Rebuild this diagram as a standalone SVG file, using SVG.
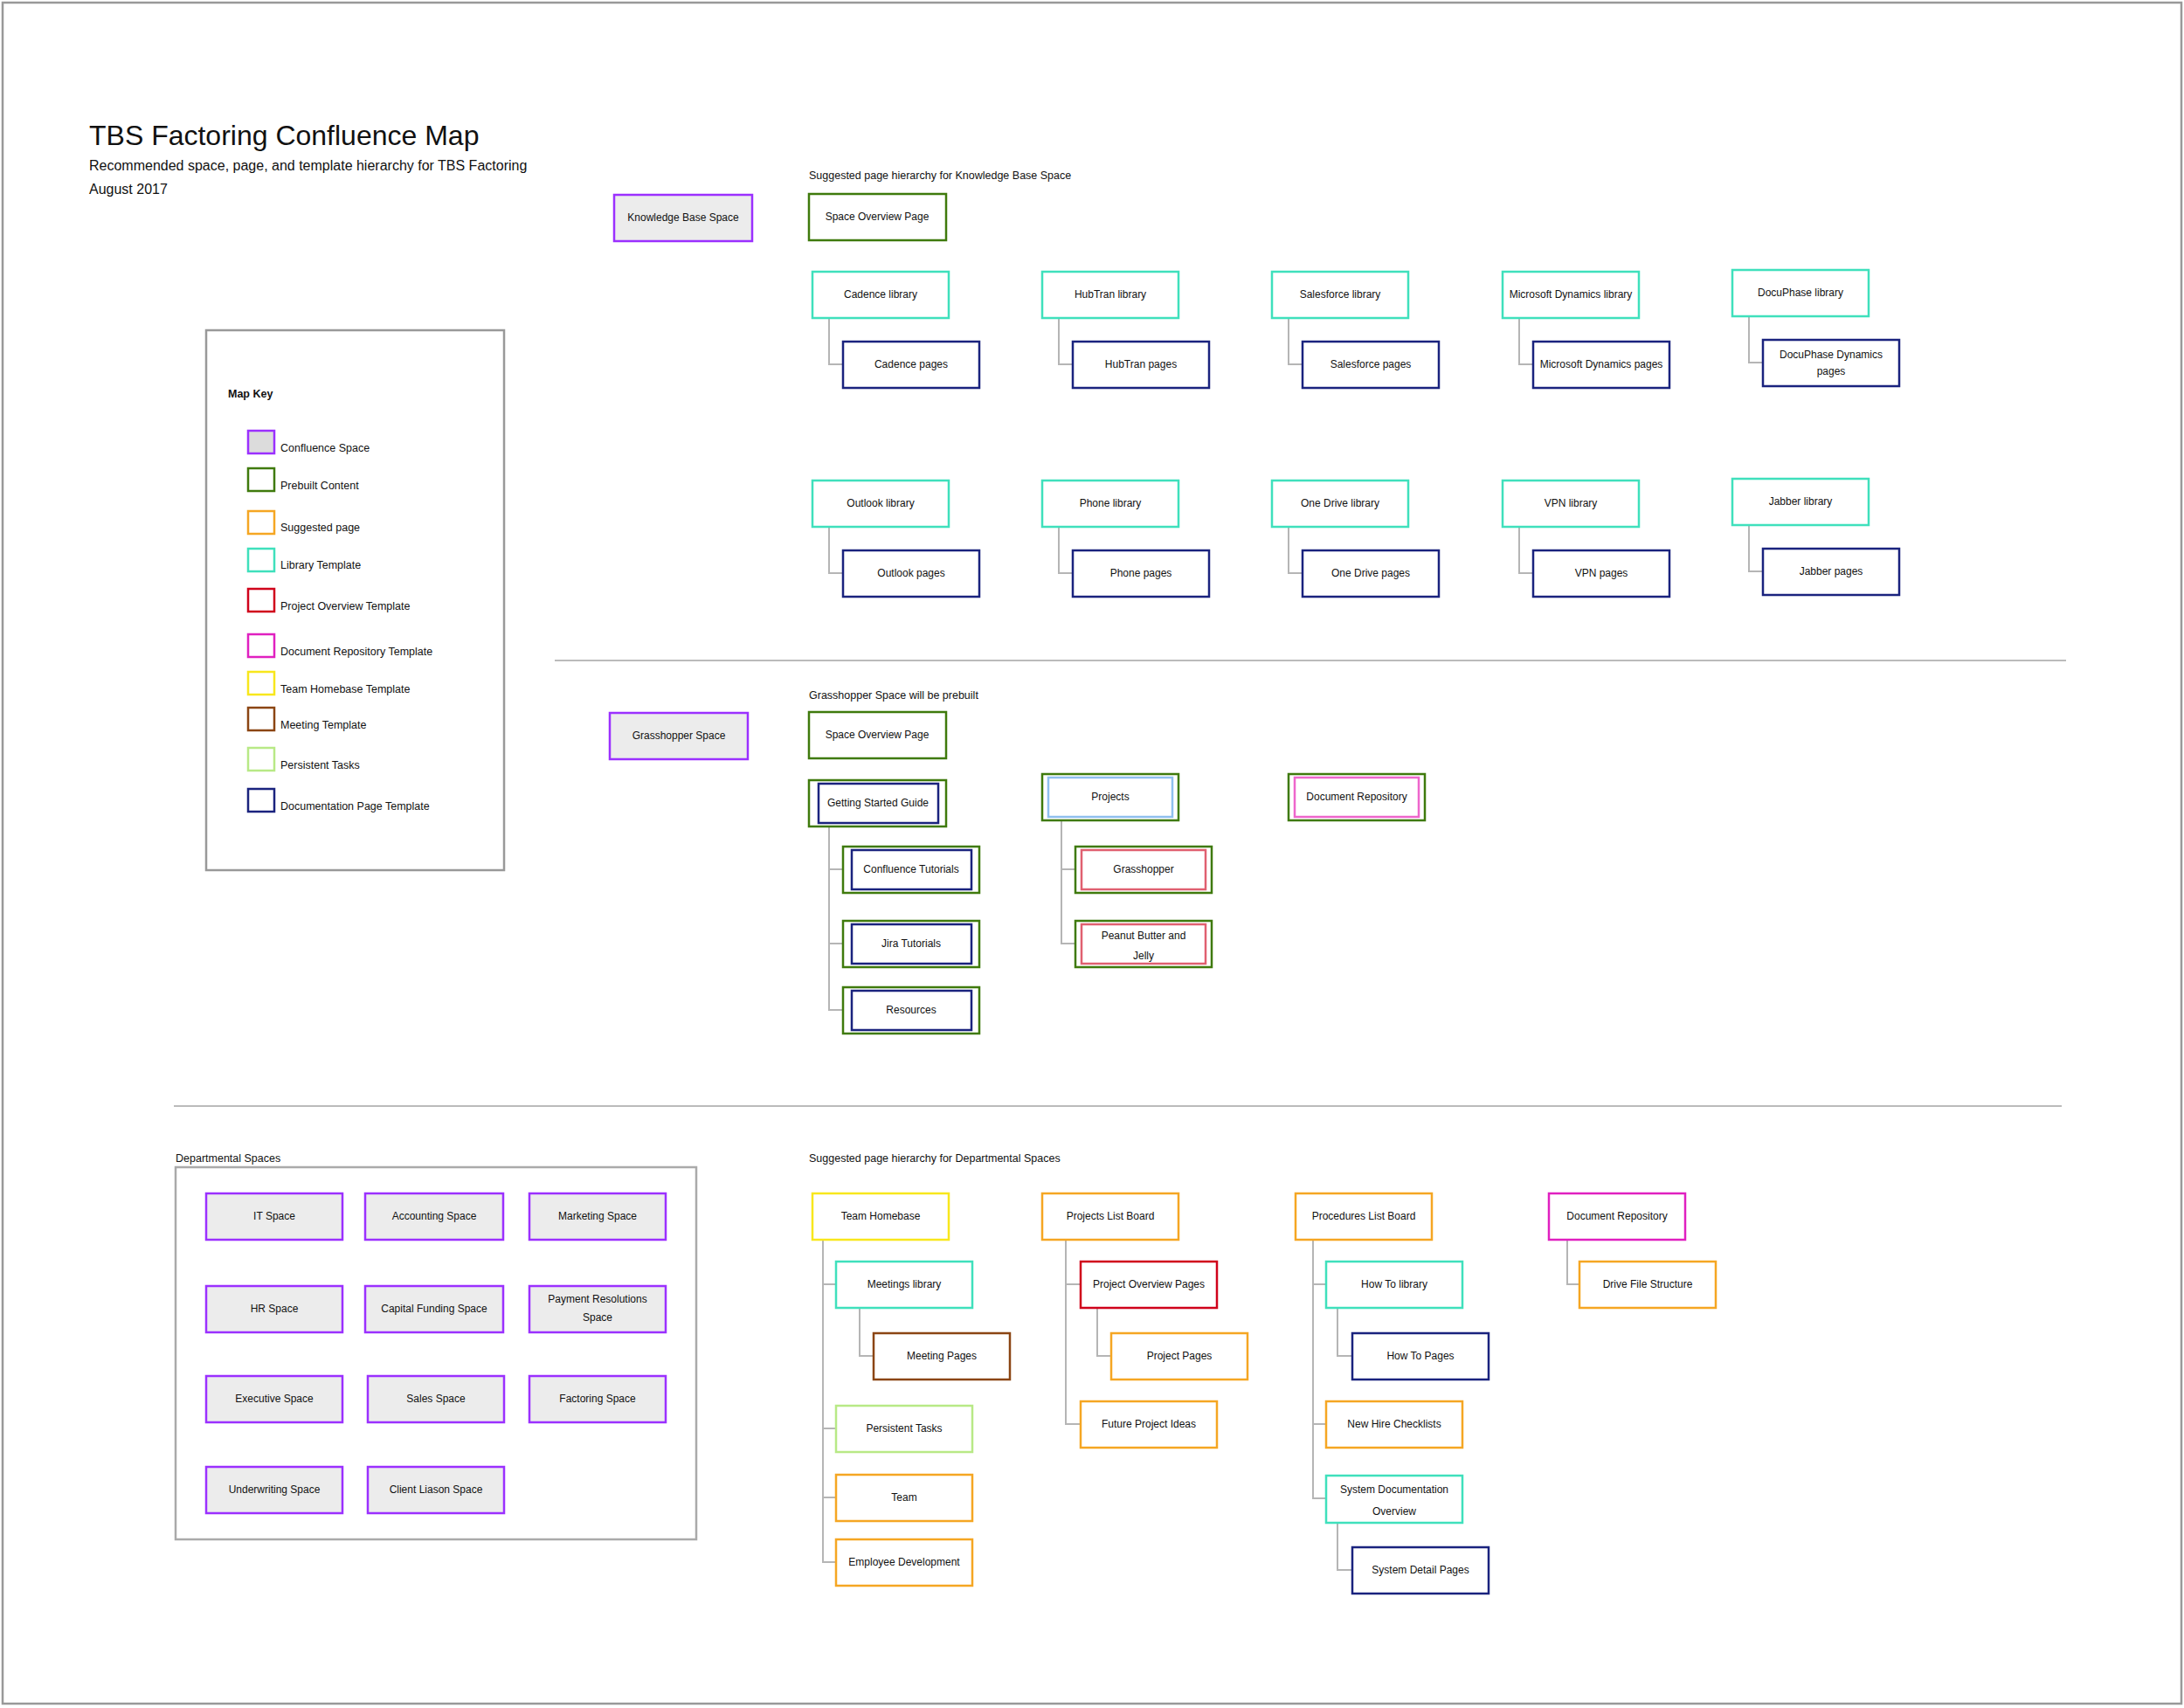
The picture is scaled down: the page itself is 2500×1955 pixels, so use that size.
<svg xmlns="http://www.w3.org/2000/svg" width="2500" height="1955" viewBox="0 0 2500 1955">
<style>
text{font-family:"Liberation Sans",Arial,sans-serif;fill:#111;}
.t{font-size:12px;text-anchor:middle;dominant-baseline:central;}
.l{font-size:12.5px;}
rect{stroke-width:2.5;fill:#fff;}
.sp{stroke:#9b30ff;fill:#ececec;}
.pb{stroke:#3f7a0c;}
.sg{stroke:#f5a623;}
.lib{stroke:#3fe0bc;}
.po{stroke:#d0021b;}
.dr{stroke:#e020c0;}
.th{stroke:#f8e71c;}
.mt{stroke:#8b4513;}
.pt{stroke:#b8e986;}
.dp{stroke:#1a237e;}
.pj{stroke:#8fbfee;}
.pr{stroke:#e06070;}
.dr2{stroke:#ee66cc;}
.c path{fill:none;stroke:#b5b5b5;stroke-width:2;}
.sep{stroke:#bbb;stroke-width:2;}
</style>
<rect x="3" y="3" width="2494" height="1947" fill="#fff" stroke="#999" stroke-width="3"/>
<g id="title">
<text x="102" y="166" style="font-size:32px">TBS Factoring Confluence Map</text>
<text x="102" y="195" style="font-size:16px">Recommended space, page, and template hierarchy for TBS Factoring</text>
<text x="102" y="222" style="font-size:16px">August 2017</text>
</g>
<g id="legend">
<rect x="236" y="378" width="341" height="618" stroke="#999" stroke-width="3"/>
<text x="261" y="455" class="l" style="font-weight:bold">Map Key</text>
<rect x="284" y="493" width="30" height="26" class="sp" style="fill:#dcdcdc"/><text x="321" y="517" class="l">Confluence Space</text>
<rect x="284" y="536" width="30" height="26" class="pb"/><text x="321" y="560" class="l">Prebuilt Content</text>
<rect x="284" y="585" width="30" height="26" class="sg"/><text x="321" y="608" class="l">Suggested page</text>
<rect x="284" y="628" width="30" height="26" class="lib"/><text x="321" y="651" class="l">Library Template</text>
<rect x="284" y="674" width="30" height="26" class="po"/><text x="321" y="698" class="l">Project Overview Template</text>
<rect x="284" y="726" width="30" height="26" class="dr"/><text x="321" y="750" class="l">Document Repository Template</text>
<rect x="284" y="769" width="30" height="26" class="th"/><text x="321" y="793" class="l">Team Homebase Template</text>
<rect x="284" y="810" width="30" height="26" class="mt"/><text x="321" y="834" class="l">Meeting Template</text>
<rect x="284" y="856" width="30" height="26" class="pt"/><text x="321" y="880" class="l">Persistent Tasks</text>
<rect x="284" y="903" width="30" height="26" class="dp"/><text x="321" y="927" class="l">Documentation Page Template</text>
</g>
<g id="separators">
<line x1="635" y1="756" x2="2365" y2="756" class="sep"/>
<line x1="199" y1="1266" x2="2360" y2="1266" class="sep"/>
</g>
<g id="captions">
<text x="926" y="205" class="l">Suggested page hierarchy for Knowledge Base Space</text>
<text x="926" y="800" class="l">Grasshopper Space will be prebuilt</text>
<text x="201" y="1330" class="l">Departmental Spaces</text>
<text x="926" y="1330" class="l">Suggested page hierarchy for Departmental Spaces</text>
</g>
<g class="c" id="connectors">
<path d="M949 364V417H965"/><path d="M1212 364V417H1228"/><path d="M1475 364V417H1491"/><path d="M1739 364V417H1755"/><path d="M2002 362V415H2018"/>
<path d="M949 603V656H965"/><path d="M1212 603V656H1228"/><path d="M1475 603V656H1491"/><path d="M1739 603V656H1755"/><path d="M2002 601V654H2018"/>
<path d="M949 945V1156H965M949 995H965M949 1080H965"/>
<path d="M1215 939V1080H1231M1215 995H1231"/>
<path d="M942 1419V1788H957M942 1470H957M942 1635H957M942 1714H957"/>
<path d="M984 1497V1552H1000"/>
<path d="M1220 1419V1630H1237M1220 1470H1237"/>
<path d="M1256 1497V1552H1272"/>
<path d="M1503 1419V1715H1518M1503 1470H1518M1503 1630H1518"/>
<path d="M1531 1497V1552H1548"/>
<path d="M1531 1743V1797H1548"/>
<path d="M1794 1419V1470H1808"/>
</g>
<g id="kb">
<g id="kb-space"><rect x="703" y="223" width="158" height="53" class="sp"/><text x="782" y="249" class="t">Knowledge Base Space</text></g>
<g id="kb-overview"><rect x="926" y="222" width="157" height="53" class="pb"/><text x="1004" y="248" class="t">Space Overview Page</text></g>
<g id="kb-cadence"><rect x="930" y="311" width="156" height="53" class="lib"/><text x="1008" y="337" class="t">Cadence library</text></g>
<g id="kb-hubtran"><rect x="1193" y="311" width="156" height="53" class="lib"/><text x="1271" y="337" class="t">HubTran library</text></g>
<g id="kb-salesforce"><rect x="1456" y="311" width="156" height="53" class="lib"/><text x="1534" y="337" class="t">Salesforce library</text></g>
<g id="kb-msd"><rect x="1720" y="311" width="156" height="53" class="lib"/><text x="1798" y="337" class="t">Microsoft Dynamics library</text></g>
<g id="kb-docuphase"><rect x="1983" y="309" width="156" height="53" class="lib"/><text x="2061" y="335" class="t">DocuPhase library</text></g>
<g id="kb-cadence-p"><rect x="965" y="391" width="156" height="53" class="dp"/><text x="1043" y="417" class="t">Cadence pages</text></g>
<g id="kb-hubtran-p"><rect x="1228" y="391" width="156" height="53" class="dp"/><text x="1306" y="417" class="t">HubTran pages</text></g>
<g id="kb-salesforce-p"><rect x="1491" y="391" width="156" height="53" class="dp"/><text x="1569" y="417" class="t">Salesforce pages</text></g>
<g id="kb-msd-p"><rect x="1755" y="391" width="156" height="53" class="dp"/><text x="1833" y="417" class="t">Microsoft Dynamics pages</text></g>
<g id="kb-docuphase-p"><rect x="2018" y="389" width="156" height="53" class="dp"/><text x="2096" y="406" class="t">DocuPhase Dynamics</text><text x="2096" y="425" class="t">pages</text></g>
<g id="kb-outlook"><rect x="930" y="550" width="156" height="53" class="lib"/><text x="1008" y="576" class="t">Outlook library</text></g>
<g id="kb-phone"><rect x="1193" y="550" width="156" height="53" class="lib"/><text x="1271" y="576" class="t">Phone library</text></g>
<g id="kb-onedrive"><rect x="1456" y="550" width="156" height="53" class="lib"/><text x="1534" y="576" class="t">One Drive library</text></g>
<g id="kb-vpn"><rect x="1720" y="550" width="156" height="53" class="lib"/><text x="1798" y="576" class="t">VPN library</text></g>
<g id="kb-jabber"><rect x="1983" y="548" width="156" height="53" class="lib"/><text x="2061" y="574" class="t">Jabber library</text></g>
<g id="kb-outlook-p"><rect x="965" y="630" width="156" height="53" class="dp"/><text x="1043" y="656" class="t">Outlook pages</text></g>
<g id="kb-phone-p"><rect x="1228" y="630" width="156" height="53" class="dp"/><text x="1306" y="656" class="t">Phone pages</text></g>
<g id="kb-onedrive-p"><rect x="1491" y="630" width="156" height="53" class="dp"/><text x="1569" y="656" class="t">One Drive pages</text></g>
<g id="kb-vpn-p"><rect x="1755" y="630" width="156" height="53" class="dp"/><text x="1833" y="656" class="t">VPN pages</text></g>
<g id="kb-jabber-p"><rect x="2018" y="628" width="156" height="53" class="dp"/><text x="2096" y="654" class="t">Jabber pages</text></g>
</g>
<g id="gh">
<g id="gh-space"><rect x="698" y="816" width="158" height="53" class="sp"/><text x="777" y="842" class="t">Grasshopper Space</text></g>
<g id="gh-overview"><rect x="926" y="815" width="157" height="53" class="pb"/><text x="1004" y="841" class="t">Space Overview Page</text></g>
<g id="gh-gsg"><rect x="926" y="893" width="157" height="53" class="pb"/><rect x="937" y="897" width="137" height="45" class="dp"/><text x="1005" y="919" class="t">Getting Started Guide</text></g>
<g id="gh-conf"><rect x="965" y="969" width="156" height="53" class="pb"/><rect x="975" y="973" width="137" height="45" class="dp"/><text x="1043" y="995" class="t">Confluence Tutorials</text></g>
<g id="gh-jira"><rect x="965" y="1054" width="156" height="53" class="pb"/><rect x="975" y="1058" width="137" height="45" class="dp"/><text x="1043" y="1080" class="t">Jira Tutorials</text></g>
<g id="gh-res"><rect x="965" y="1130" width="156" height="53" class="pb"/><rect x="975" y="1134" width="137" height="45" class="dp"/><text x="1043" y="1156" class="t">Resources</text></g>
<g id="gh-projects"><rect x="1193" y="886" width="156" height="53" class="pb"/><rect x="1200" y="890" width="142" height="45" class="pj"/><text x="1271" y="912" class="t">Projects</text></g>
<g id="gh-grasshopper"><rect x="1231" y="969" width="156" height="53" class="pb"/><rect x="1238" y="973" width="142" height="45" class="pr"/><text x="1309" y="995" class="t">Grasshopper</text></g>
<g id="gh-pbj"><rect x="1231" y="1054" width="156" height="53" class="pb"/><rect x="1238" y="1058" width="142" height="45" class="pr"/><text x="1309" y="1071" class="t">Peanut Butter and</text><text x="1309" y="1094" class="t">Jelly</text></g>
<g id="gh-docrepo"><rect x="1475" y="886" width="156" height="53" class="pb"/><rect x="1482" y="890" width="142" height="45" class="dr2"/><text x="1553" y="912" class="t">Document Repository</text></g>
</g>
<g id="dept-spaces">
<rect x="201" y="1336" width="596" height="426" stroke="#aaa" stroke-width="2"/>
<g id="ds-it"><rect x="236" y="1366" width="156" height="53" class="sp"/><text x="314" y="1392" class="t">IT Space</text></g>
<g id="ds-acc"><rect x="418" y="1366" width="158" height="53" class="sp"/><text x="497" y="1392" class="t">Accounting Space</text></g>
<g id="ds-mkt"><rect x="606" y="1366" width="156" height="53" class="sp"/><text x="684" y="1392" class="t">Marketing Space</text></g>
<g id="ds-hr"><rect x="236" y="1472" width="156" height="53" class="sp"/><text x="314" y="1498" class="t">HR Space</text></g>
<g id="ds-cf"><rect x="418" y="1472" width="158" height="53" class="sp"/><text x="497" y="1498" class="t">Capital Funding Space</text></g>
<g id="ds-pr"><rect x="606" y="1472" width="156" height="53" class="sp"/><text x="684" y="1487" class="t">Payment Resolutions</text><text x="684" y="1508" class="t">Space</text></g>
<g id="ds-exec"><rect x="236" y="1575" width="156" height="53" class="sp"/><text x="314" y="1601" class="t">Executive Space</text></g>
<g id="ds-sales"><rect x="421" y="1575" width="156" height="53" class="sp"/><text x="499" y="1601" class="t">Sales Space</text></g>
<g id="ds-fact"><rect x="606" y="1575" width="156" height="53" class="sp"/><text x="684" y="1601" class="t">Factoring Space</text></g>
<g id="ds-uw"><rect x="236" y="1679" width="156" height="53" class="sp"/><text x="314" y="1705" class="t">Underwriting Space</text></g>
<g id="ds-cl"><rect x="421" y="1679" width="156" height="53" class="sp"/><text x="499" y="1705" class="t">Client Liason Space</text></g>
</g>
<g id="dept">
<g id="d-th"><rect x="930" y="1366" width="156" height="53" class="th"/><text x="1008" y="1392" class="t">Team Homebase</text></g>
<g id="d-ml"><rect x="957" y="1444" width="156" height="53" class="lib"/><text x="1035" y="1470" class="t">Meetings library</text></g>
<g id="d-mp"><rect x="1000" y="1526" width="156" height="53" class="mt"/><text x="1078" y="1552" class="t">Meeting Pages</text></g>
<g id="d-pt"><rect x="957" y="1609" width="156" height="53" class="pt"/><text x="1035" y="1635" class="t">Persistent Tasks</text></g>
<g id="d-team"><rect x="957" y="1688" width="156" height="53" class="sg"/><text x="1035" y="1714" class="t">Team</text></g>
<g id="d-ed"><rect x="957" y="1762" width="156" height="53" class="sg"/><text x="1035" y="1788" class="t">Employee Development</text></g>
<g id="d-plb"><rect x="1193" y="1366" width="156" height="53" class="sg"/><text x="1271" y="1392" class="t">Projects List Board</text></g>
<g id="d-pop"><rect x="1237" y="1444" width="156" height="53" class="po"/><text x="1315" y="1470" class="t">Project Overview Pages</text></g>
<g id="d-pp"><rect x="1272" y="1526" width="156" height="53" class="sg"/><text x="1350" y="1552" class="t">Project Pages</text></g>
<g id="d-fpi"><rect x="1237" y="1604" width="156" height="53" class="sg"/><text x="1315" y="1630" class="t">Future Project Ideas</text></g>
<g id="d-prlb"><rect x="1483" y="1366" width="156" height="53" class="sg"/><text x="1561" y="1392" class="t">Procedures List Board</text></g>
<g id="d-htl"><rect x="1518" y="1444" width="156" height="53" class="lib"/><text x="1596" y="1470" class="t">How To library</text></g>
<g id="d-htp"><rect x="1548" y="1526" width="156" height="53" class="dp"/><text x="1626" y="1552" class="t">How To Pages</text></g>
<g id="d-nhc"><rect x="1518" y="1604" width="156" height="53" class="sg"/><text x="1596" y="1630" class="t">New Hire Checklists</text></g>
<g id="d-sdo"><rect x="1518" y="1689" width="156" height="54" class="lib"/><text x="1596" y="1705" class="t">System Documentation</text><text x="1596" y="1730" class="t">Overview</text></g>
<g id="d-sdp"><rect x="1548" y="1771" width="156" height="53" class="dp"/><text x="1626" y="1797" class="t">System Detail Pages</text></g>
<g id="d-dr"><rect x="1773" y="1366" width="156" height="53" class="dr"/><text x="1851" y="1392" class="t">Document Repository</text></g>
<g id="d-dfs"><rect x="1808" y="1444" width="156" height="53" class="sg"/><text x="1886" y="1470" class="t">Drive File Structure</text></g>
</g>
</svg>
